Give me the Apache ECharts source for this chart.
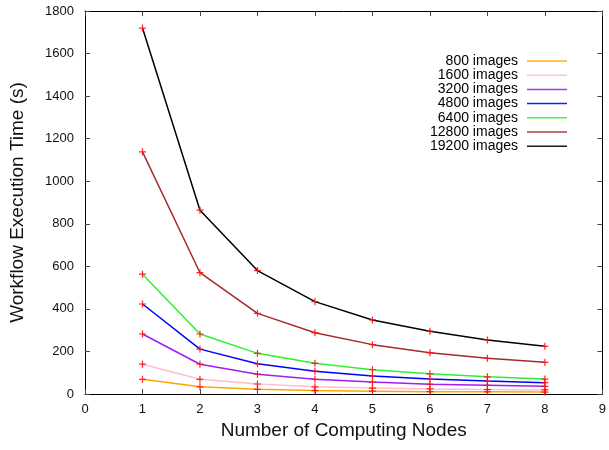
<!DOCTYPE html>
<html>
<head>
<meta charset="utf-8">
<script src="https://cdn.jsdelivr.net/npm/echarts@6/dist/echarts.min.js"></script>
<style>html,body{margin:0;padding:0;background:#fff}#chart{width:609px;height:450px}</style>
</head>
<body>
<div id="chart"></div>
<script>
const nodes = [1, 2, 3, 4, 5, 6, 7, 8];
const seriesNames = ['800 images', '1600 images', '3200 images', '4800 images', '6400 images', '12800 images', '19200 images'];
const s800   = [69, 34, 22, 16, 13, 11, 10, 9];
const s1600  = [140, 69, 47, 34, 28, 24, 21, 19];
const s3200  = [282, 140, 93, 69, 56, 46, 41, 36];
const s4800  = [423, 211, 142, 107, 85, 70, 61, 53];
const s6400  = [563, 282, 191, 144, 114, 95, 81, 70];
const s12800 = [1138, 570, 379, 288, 232, 194, 168, 149];
const s19200 = [1720, 864, 580, 434, 348, 295, 254, 224];
const allValues = [s800, s1600, s3200, s4800, s6400, s12800, s19200];
const lineColors = ['#ffa500', '#ffc0cb', '#a020f0', '#0000ff', '#33ee33', '#a52a2a', '#000000'];
const xTicks = [0, 9, 1];
const yTicks = [0, 1800, 200];

const FONT = 'Liberation Sans, Arial, Helvetica, sans-serif';
const plus = 'path://M3.3,0H4.7V3.3H8V4.7H4.7V8H3.3V4.7H0V3.3H3.3Z';

const chart = echarts.init(document.getElementById('chart'), null, {renderer: 'canvas'});

const axisCommon = {
  type: 'value',
  axisLine: {show: true, onZero: false, lineStyle: {color: '#000', width: 1}},
  axisTick: {show: true, inside: true, length: 5, lineStyle: {color: '#444', width: 1}},
  splitLine: {show: false}
};

const series = allValues.map((vals, i) => ({
  name: seriesNames[i],
  type: 'line',
  xAxisIndex: 0,
  yAxisIndex: 0,
  data: nodes.map((n, j) => [n, vals[j]]),
  symbol: plus,
  symbolSize: 7,
  showAllSymbol: true,
  lineStyle: {color: lineColors[i], width: 1.5},
  itemStyle: {color: '#ff1010', opacity: 0.9},
  emphasis: {disabled: true},
  silent: true
}));

chart.setOption({
  animation: false,
  backgroundColor: '#fff',
  textStyle: {fontFamily: FONT},
  grid: {left: 84, right: 5, top: 11, bottom: 56, containLabel: false},
  legend: {
    orient: 'vertical',
    left: 421,
    top: 49,
    align: 'right',
    itemWidth: 40,
    itemHeight: 14,
    itemGap: 0.2,
    icon: 'path://M0,0H40V1.5H0Z',
    selectedMode: false,
    textStyle: {fontFamily: FONT, fontSize: 14, color: '#000', width: 92, align: 'right', lineHeight: 14, padding: [0, 4, 0, 0]},
    data: seriesNames.map((n, i) => ({name: n, itemStyle: {color: lineColors[i]}}))
  },
  xAxis: [
    Object.assign({}, axisCommon, {
      position: 'bottom',
      min: xTicks[0], max: xTicks[1], interval: xTicks[2],
      axisLabel: {show: true, margin: 9, fontSize: 13, color: '#111', fontFamily: FONT, formatter: v => String(v)},
      name: 'Number of Computing Nodes',
      nameLocation: 'middle',
      nameGap: 26,
      nameTextStyle: {fontSize: 19, color: '#111', fontFamily: FONT}
    }),
    Object.assign({}, axisCommon, {
      position: 'top',
      min: xTicks[0], max: xTicks[1], interval: xTicks[2],
      axisLabel: {show: false}
    })
  ],
  yAxis: [
    Object.assign({}, axisCommon, {
      position: 'left',
      min: yTicks[0], max: yTicks[1], interval: yTicks[2],
      axisLabel: {show: true, margin: 11, fontSize: 13, color: '#111', fontFamily: FONT, formatter: v => String(v)},
      name: 'Workflow Execution Time (s)',
      nameLocation: 'middle',
      nameGap: 58,
      nameTextStyle: {fontSize: 19, color: '#111', fontFamily: FONT}
    }),
    Object.assign({}, axisCommon, {
      position: 'right',
      min: yTicks[0], max: yTicks[1], interval: yTicks[2],
      axisLabel: {show: false}
    })
  ],
  series: series
});
</script>
</body>
</html>
